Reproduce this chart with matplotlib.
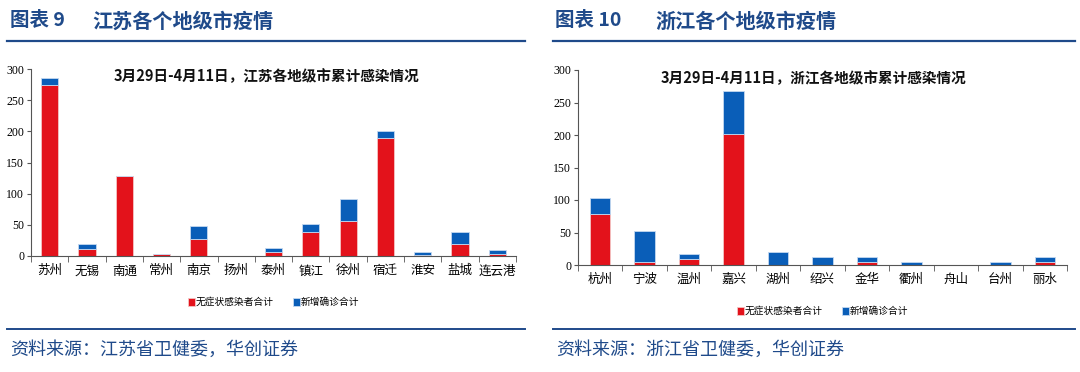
import matplotlib
matplotlib.use("Agg")
import matplotlib.pyplot as plt
import numpy as np

plt.rcParams['font.family'] = ['Noto Sans CJK SC', 'DejaVu Sans']

js_cities = ['苏州', '无锡', '南通', '常州', '南京', '扬州', '泰州', '镇江', '徐州', '宿迁', '淮安', '盐城', '连云港']
js_asym = [274, 12, 129, 3, 27, 0, 7, 38, 56, 190, 2, 20, 4]
js_total = [285, 20, 129, 3, 48, 0, 13, 52, 91, 201, 6, 39, 10]

zj_cities = ['杭州', '宁波', '温州', '嘉兴', '湖州', '绍兴', '金华', '衢州', '舟山', '台州', '丽水']
zj_asym = [78, 5, 9, 202, 0, 0, 5, 0, 0, 0, 5]
zj_total = [103, 52, 17, 268, 20, 12, 13, 4, 0, 4, 12]

RED = '#E3121B'
BLUE = '#0A5EB8'
NAVY = '#1F4A8A'
W, H = 1080, 372

fig = plt.figure(figsize=(W / 100, H / 100), dpi=100)


def px(x0, y0, x1, y1):
    return [x0 / W, 1 - y1 / H, (x1 - x0) / W, (y1 - y0) / H]


def panel(label, header, x_head, x_text, line_x, ax_box, cities, asym, total, title, title_x, leg_y, src):
    fig.text(x_head / W, 1 - 21 / H, label, fontsize=14, fontweight='bold',
             color=NAVY, va='center', ha='left')
    fig.text(x_text / W, 1 - 21 / H, header, fontsize=14.5, fontweight='bold',
             color=NAVY, va='center', ha='left')
    fig.add_artist(plt.Line2D([line_x[0] / W, line_x[1] / W], [1 - 41 / H] * 2,
                              color=NAVY, lw=1.6))
    fig.add_artist(plt.Line2D([line_x[0] / W, line_x[1] / W], [1 - 329 / H] * 2,
                              color=NAVY, lw=1.4))
    fig.text(line_x[0] / W + 0.003, 1 - 350 / H, src, fontsize=13, color=NAVY,
             va='center', ha='left', style='italic')

    ax = fig.add_axes(px(*ax_box))
    x = np.arange(len(cities))
    asym = np.array(asym)
    confirmed = np.array(total) - asym
    ax.bar(x, asym, 0.46, color=RED, edgecolor='#f4c4c4', linewidth=0.6, label='无症状感染者合计')
    ax.bar(x, confirmed, 0.46, bottom=asym, color=BLUE, edgecolor='#c4d8f0', linewidth=0.6,
           label='新增确诊合计')
    ax.set_xlim(-0.5, len(cities) - 0.5)
    ax.set_ylim(0, 300)
    ax.set_yticks(range(0, 301, 50))
    ax.set_yticklabels([str(v) for v in range(0, 301, 50)], fontsize=8.5,
                       family='Liberation Serif')
    ax.set_xticks(x)
    ax.set_xticklabels(cities, fontsize=9)
    ax.set_xticks(np.arange(-0.5, len(cities)), minor=True)
    ax.tick_params(axis='x', which='major', length=0, pad=6)
    ax.tick_params(axis='x', which='minor', length=4, color='#555555')
    ax.tick_params(axis='y', length=3, color='#555555', pad=2)
    for s in ['top', 'right']:
        ax.spines[s].set_visible(False)
    ax.spines['left'].set_color('#555555')
    ax.spines['bottom'].set_color('#555555')
    tx = (title_x - ax_box[0]) / (ax_box[2] - ax_box[0])
    ax.text(tx, 0.96, title, transform=ax.transAxes, fontsize=10.5,
            fontweight='bold', ha='center', va='center', color='#111111')
    cx = (ax_box[0] + ax_box[2]) / 2
    ax.legend(loc='center', bbox_to_anchor=((cx - ax_box[0]) / (ax_box[2] - ax_box[0]),
                                            -(leg_y - ax_box[3]) / (ax_box[3] - ax_box[1])),
              ncol=2, frameon=False, fontsize=7, handlelength=0.7, handleheight=0.9,
              handletextpad=0.1, columnspacing=2.0)
    return ax


panel('图表 9', '江苏各个地级市疫情', 10, 92, (7, 525), (31, 69, 516, 256),
      js_cities, js_asym, js_total, '3月29日-4月11日，江苏各地级市累计感染情况',
      267, 302, '资料来源：江苏省卫健委，华创证券')
panel('图表 10', '浙江各个地级市疫情', 555, 655, (553, 1075), (578, 70, 1067, 265),
      zj_cities, zj_asym, zj_total, '3月29日-4月11日，浙江各地级市累计感染情况',
      814, 311, '资料来源：浙江省卫健委，华创证券')

fig.savefig('out.png', dpi=100)
